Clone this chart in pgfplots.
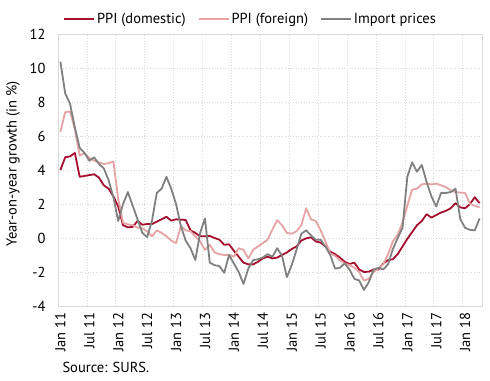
\documentclass[border=0pt]{standalone}
\usepackage{fontspec}
\setmainfont{PT Sans}
\usepackage{pgfplots}
\usepackage{pgfplotstable}
\pgfplotsset{compat=1.18}
\definecolor{dom}{HTML}{A50F2D}
\definecolor{forg}{HTML}{E5A3A3}
\definecolor{imp}{HTML}{808080}
\definecolor{gridc}{HTML}{D9D9D9}
\newcommand{\ff}{\fontsize{14.5}{16}\selectfont}
\pgfplotstableread{
i d f g
0 4.0 6.25 10.37
1 4.75 7.4 8.5
2 4.8 7.45 7.9
3 5.0 6.4 6.5
4 3.6 4.85 5.3
5 3.65 5.0 5.0
6 3.7 4.7 4.55
7 3.75 4.55 4.75
8 3.55 4.45 4.35
9 3.1 4.35 4.1
10 2.9 4.4 3.4
11 2.45 4.5 2.4
12 1.85 2.3 1.0
13 0.75 0.9 2.0
14 0.63 0.8 2.7
15 0.65 0.75 1.9
16 1.0 0.62 1.1
17 0.78 0.57 0.3
18 0.82 0.4 0.05
19 0.82 0.1 1.0
20 0.96 0.45 2.65
21 1.1 0.3 2.9
22 1.25 0.1 3.6
23 1.02 -0.15 2.9
24 1.1 -0.3 2.0
25 1.08 0.7 0.7
26 1.06 0.45 -0.15
27 0.45 0.4 -0.6
28 0.3 0.1 -1.3
29 0.1 -0.2 0.3
30 0.1 -0.7 1.15
31 0.12 -0.4 -1.45
32 0.0 -0.85 -1.6
33 -0.1 -0.95 -1.65
34 -0.4 -1.0 -2.05
35 -0.37 -1.0 -1.0
36 -0.75 -1.1 -1.5
37 -1.1 -0.6 -2.0
38 -1.45 -0.7 -2.7
39 -1.55 -1.2 -1.8
40 -1.55 -0.7 -1.3
41 -1.4 -0.5 -1.25
42 -1.2 -0.3 -1.15
43 -1.1 -0.1 -0.95
44 -1.2 0.5 -1.1
45 -1.15 1.05 -0.6
46 -1.0 0.75 -1.05
47 -0.85 0.3 -2.3
48 -0.65 0.25 -1.6
49 -0.5 0.4 -0.7
50 -0.15 0.75 0.25
51 -0.02 1.75 0.45
52 0.04 1.1 0.15
53 -0.2 1.0 -0.1
54 -0.27 0.45 -0.1
55 -0.5 -0.2 -0.5
56 -0.8 -0.9 -1.0
57 -0.95 -1.05 -1.8
58 -1.15 -1.3 -1.75
59 -1.4 -1.5 -1.5
60 -1.53 -1.6 -1.85
61 -1.45 -1.75 -2.4
62 -1.85 -2.0 -2.5
63 -2.0 -2.5 -3.05
64 -1.98 -2.4 -2.6
65 -1.85 -2.0 -1.85
66 -1.85 -1.78 -1.75
67 -1.5 -1.55 -1.85
68 -1.3 -0.95 -1.55
69 -1.25 -0.2 -0.65
70 -0.95 0.2 0.0
71 -0.5 0.9 0.6
72 -0.05 1.9 3.6
73 0.35 2.85 4.45
74 0.75 2.9 3.9
75 1.0 3.15 4.3
76 1.4 3.2 3.3
77 1.2 3.15 2.45
78 1.35 3.2 1.85
79 1.5 3.1 2.65
80 1.6 3.0 2.65
81 1.75 2.8 2.7
82 2.05 2.7 2.9
83 1.8 2.67 1.1
84 1.75 2.65 0.6
85 2.0 2.0 0.48
86 2.4 1.9 0.45
87 2.05 1.8 1.15
}\datatable
\begin{document}
\begin{tikzpicture}
\begin{axis}[
  name=ax,
  scale only axis,
  width=424pt, height=272pt,
  xmin=-0.5, xmax=87.5,
  ymin=-4, ymax=12,
  ytick={-4,-2,...,12},
  xtick={0,6,...,84},
  xticklabels={Jan 11,Jul 11,Jan 12,Jul 12,Jan 13,Jul 13,Jan 14,Jul 14,Jan 15,Jul 15,Jan 16,Jul 16,Jan 17,Jul 17,Jan 18},
  x tick label style={rotate=90, anchor=east, font=\ff},
  y tick label style={font=\ff},
  /pgf/number format/assume math mode=true,
  major tick length=0pt,
  axis line style={draw=gridc, line width=0.6pt},
  extra x ticks={5.5,11.5,...,83.5},
  extra x tick labels={},
  extra x tick style={grid=major, major grid style={draw=gridc, line width=0.7pt}},
  ymajorgrids,
  major grid style={draw=gridc, line width=0.7pt, dotted},
  xticklabel shift=3pt,
  yticklabel shift=9pt,
  ylabel={Year-on-year growth (in \%)},
  ylabel style={font=\ff, at={(axis description cs:0,0.522)}, anchor=center, yshift=45pt},
  legend columns=3,
  legend style={draw=none, fill=none, at={(axis description cs:0.005,1)}, anchor=south west, yshift=5pt, font=\ff,
    /tikz/every even column/.append style={column sep=10pt}},
  legend image code/.code={\draw[#1] (0pt,0pt) -- (30pt,0pt);},
  every axis plot/.append style={line width=1.8pt, line join=round},
]
\addplot[dom] table[x=i, y=d] {\datatable};
\addlegendentry{PPI (domestic)}
\addplot[forg] table[x=i, y=f] {\datatable};
\addlegendentry{PPI (foreign)}
\addplot[imp] table[x=i, y=g] {\datatable};
\addlegendentry{Import prices}
\end{axis}
\node[anchor=base west, font=\ff] at ([xshift=1pt, yshift=-66pt]ax.south west) {Source: SURS.};
\pgfresetboundingbox
\path ([xshift=-58pt, yshift=-74pt]ax.south west) rectangle ([xshift=8pt, yshift=34pt]ax.north east);
\end{tikzpicture}
\end{document}
